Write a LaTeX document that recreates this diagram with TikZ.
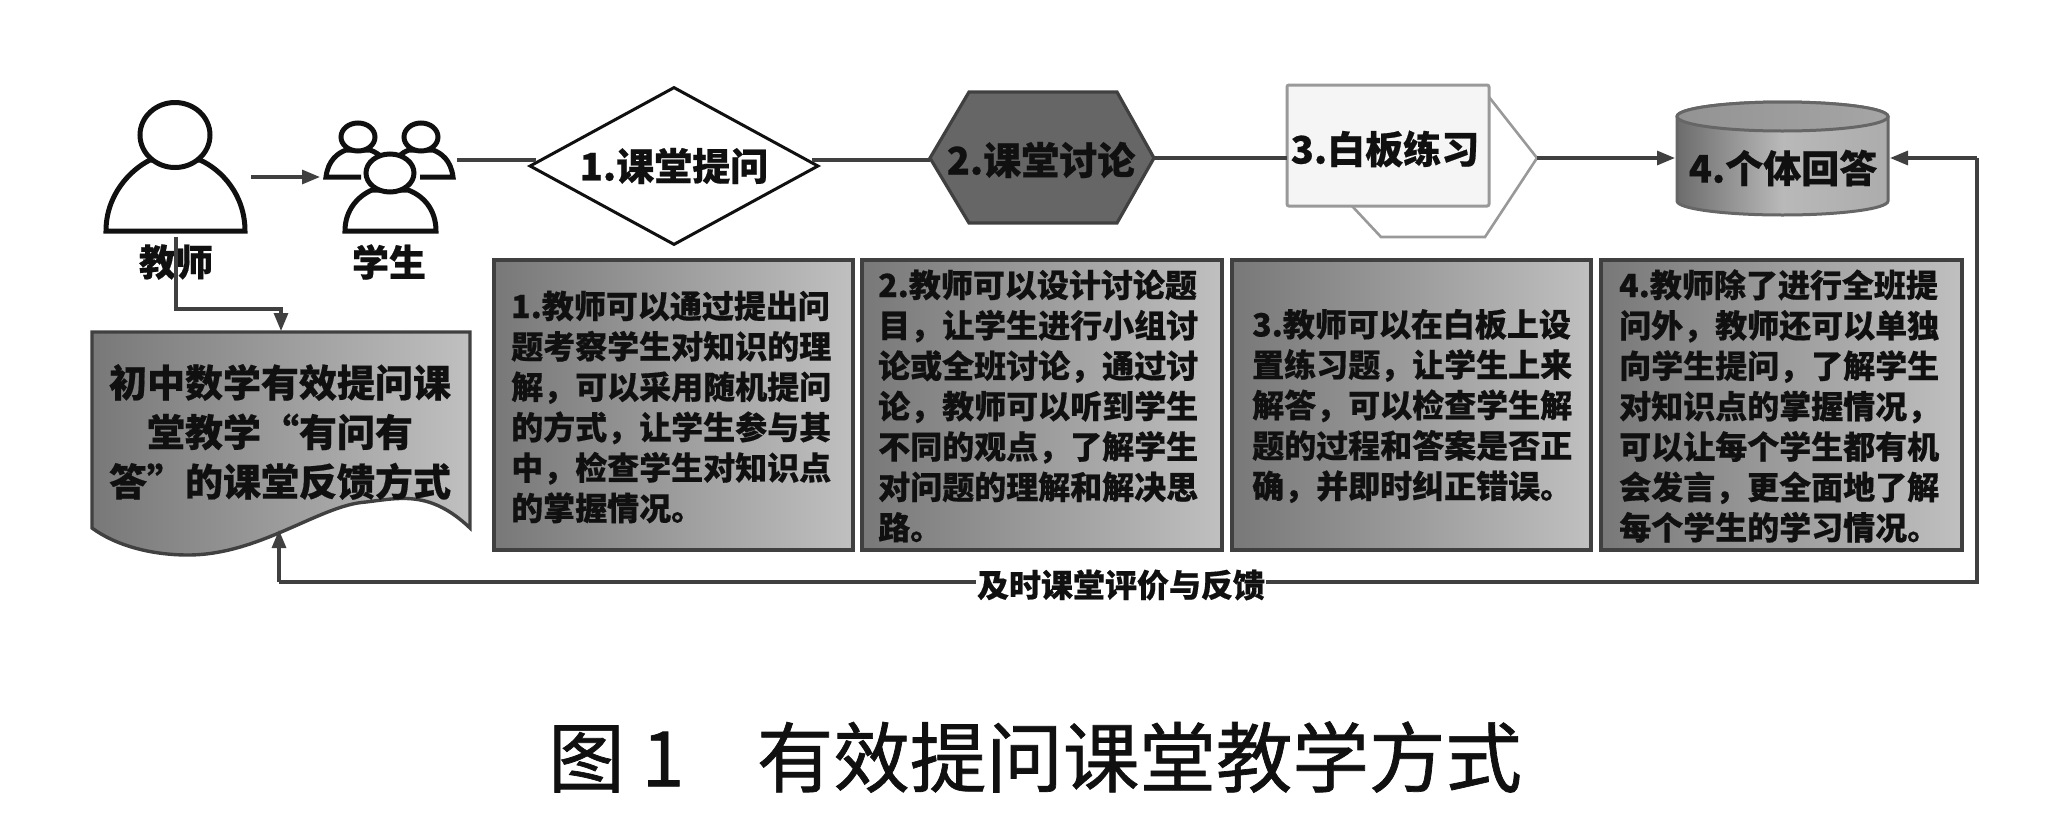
\documentclass[tikz,border=0pt]{standalone}
\usepackage{fontspec}
\setmainfont{Noto Sans CJK SC}[BoldFeatures={FakeBold=0.5}]
\newfontfamily\capfont{Noto Sans CJK SC}[FakeBold=0.9]
\usetikzlibrary{arrows.meta,shapes.geometric}
\definecolor{ink}{HTML}{101010}
\definecolor{conn}{HTML}{404040}
\definecolor{gradA}{HTML}{787878}
\definecolor{gradB}{HTML}{9C9C9C}
\definecolor{gradC}{HTML}{C0C0C0}
\tikzset{
  x=1pt,y=-1pt,
  person/.style={draw=ink,line width=5pt,fill=white},
  conline/.style={draw=conn,line width=3.2pt},
  conarrow/.style={conline,-{Triangle[length=18pt,width=14pt]}},
  gradbox/.style={draw=conn,line width=3.4pt,left color=gradA,right color=gradC,middle color=gradB},
  bodytext/.style={text=ink,font=\bfseries\fontsize{32}{40.4}\selectfont,align=left,anchor=west,inner sep=0pt},
  shapetext/.style={text=ink,font=\bfseries\fontsize{38}{49.5}\selectfont,align=center,inner sep=0pt},
  labeltext/.style={text=ink,font=\bfseries\fontsize{37}{40}\selectfont,inner sep=0pt},
}
\begin{document}
\begin{tikzpicture}
\useasboundingbox (0,0) rectangle (2056,833);
% teacher icon
\draw[person] (106,231) .. controls (106,195) and (130,170) .. (150,160) -- (200,160) .. controls (222,170) and (245,195) .. (245,231) -- cycle;
\draw[person] (175,135) ellipse [x radius=35,y radius=32.5];
% student icons
\draw[person] (361,177) -- (326,177) .. controls (328,160) and (338,153) .. (346,150) -- (370,150) .. controls (378,153) and (384,158) .. (388,165);
\draw[person] (358,137) ellipse [x radius=17,y radius=14];
\draw[person] (420,177) -- (453,177) .. controls (451,160) and (441,153) .. (433,150) -- (409,150) .. controls (401,153) and (396,158) .. (392,165);
\draw[person] (421,137) ellipse [x radius=17,y radius=14];
\draw[person] (345,231) .. controls (345,210) and (358,196) .. (372,190) -- (408,190) .. controls (424,196) and (436,210) .. (436,231) -- cycle;
\draw[person] (390,173) ellipse [x radius=24,y radius=19];
\node[labeltext] (teacher) at (176,262) {教师};
\node[labeltext] (student) at (389,262) {学生};
% step shapes
\node[diamond,draw=ink,line width=3pt,minimum width=289pt,minimum height=158pt,aspect=1.83,inner sep=0pt,text=ink,font=\bfseries\fontsize{38}{40}\selectfont] (d1) at (674,166) {\raisebox{-3pt}{1.课堂提问}};
\draw[draw=conn,line width=3.2pt,fill=black!60] (930,158) -- (969,92) -- (1117,92) -- (1154,158) -- (1117,223) -- (969,223) -- cycle;
\node[shapetext] (hex) at (1041,160) {2.课堂讨论};
\draw[draw=gray!80,line width=2.6pt,fill=white] (1489,97) -- (1537,158) -- (1485,237) -- (1381,237) -- (1352,206) -- cycle;
\draw[draw=gray!80,line width=3pt,fill=black!4,rounded corners=2pt] (1287,85) rectangle (1489,206);
\node[shapetext] (board) at (1385,149) {3.白板练习};
\draw[draw=gray!80!black,line width=3pt,left color=gray!85!black,right color=gray!65,middle color=gray!55] (1677,116.5) -- (1677,201) arc[start angle=180,end angle=0,x radius=105.5,y radius=14] -- (1888,116.5) arc[start angle=0,end angle=-180,x radius=105.5,y radius=14.5] -- cycle;
\draw[draw=gray!80!black,line width=3pt,left color=gray!85,right color=gray!70] (1782.5,116.5) ellipse [x radius=105.5,y radius=14.5];
\node[shapetext] (cyl) at (1783,168) {4.个体回答};
% document
\draw[gradbox] (92,332) -- (470,332) -- (470,528) .. controls (430,490) and (400,498) .. (366,502) .. controls (320,505) and (260,555) .. (188,555) .. controls (150,555) and (115,545) .. (92,528) -- cycle;
\node[shapetext] (doc) at (280,432) {初中数学有效提问课\\堂教学“有问有\\答”的课堂反馈方式};
% boxes
\draw[gradbox] (494,260) rectangle (853,550);
\draw[gradbox] (862,260) rectangle (1222,550);
\draw[gradbox] (1232,260) rectangle (1591,550);
\draw[gradbox] (1601,260) rectangle (1962,550);
\node[bodytext] (t1) at (511,407) {1.教师可以通过提出问\\题考察学生对知识的理\\解，可以采用随机提问\\的方式，让学生参与其\\中，检查学生对知识点\\的掌握情况。};
\node[bodytext] (t2) at (878,406) {2.教师可以设计讨论题\\目，让学生进行小组讨\\论或全班讨论，通过讨\\论，教师可以听到学生\\不同的观点，了解学生\\对问题的理解和解决思\\路。};
\node[bodytext] (t3) at (1252,406) {3.教师可以在白板上设\\置练习题，让学生上来\\解答，可以检查学生解\\题的过程和答案是否正\\确，并即时纠正错误。};
\node[bodytext] (t4) at (1619,406) {4.教师除了进行全班提\\问外，教师还可以单独\\向学生提问，了解学生\\对知识点的掌握情况，\\可以让每个学生都有机\\会发言，更全面地了解\\每个学生的学习情况。};
% anchors
\coordinate (tOut) at (176,237);
\coordinate (tMid) at (176,309);
\coordinate (tMid2) at (281,309);
\coordinate (tIn) at (281,331);
\coordinate (tArrEnd) at (320,177);
\coordinate (tArrStart) at (251,177);
\coordinate (sOut) at (457,160);
\coordinate (dL) at (536,160);
\coordinate (dR) at (812,160);
\coordinate (hL) at (930,160);
\coordinate (hR) at (1154,158);
\coordinate (bL) at (1287,158);
\coordinate (bR) at (1537,158);
\coordinate (cL) at (1675,158);
\coordinate (cR) at (1890,158);
\coordinate (fbC) at (1977,582);
\coordinate (fbD) at (279,582);
\coordinate (docB) at (279,530);
\coordinate (fbU) at (1977,158);
% connectors
\draw[conarrow] (tArrStart) -- (tArrEnd);
\draw[conline] (sOut) -- (dL);
\draw[conline] (dR) -- (hL);
\draw[conline] (hR) -- (bL);
\draw[conarrow] (bR) -- (cL);
\draw[conarrow] (tOut) -- (tMid) -- (tMid2) -- (tIn);
\draw[conarrow] (fbU) -- (cR);
\draw[conline] (fbU) -- (fbC) -- (fbD);
\draw[conarrow] (fbD) -- (docB);
\node[fill=white,text=ink,font=\bfseries\fontsize{32}{34}\selectfont,inner sep=1pt] (fb) at (1121,585) {及时课堂评价与反馈};
% caption
\node[text=ink,font=\capfont\fontsize{76.5}{80}\selectfont,inner sep=0pt,anchor=west] (cap) at (548,757) {图 1\hspace{0.95em}有效提问课堂教学方式};
\end{tikzpicture}
\end{document}
